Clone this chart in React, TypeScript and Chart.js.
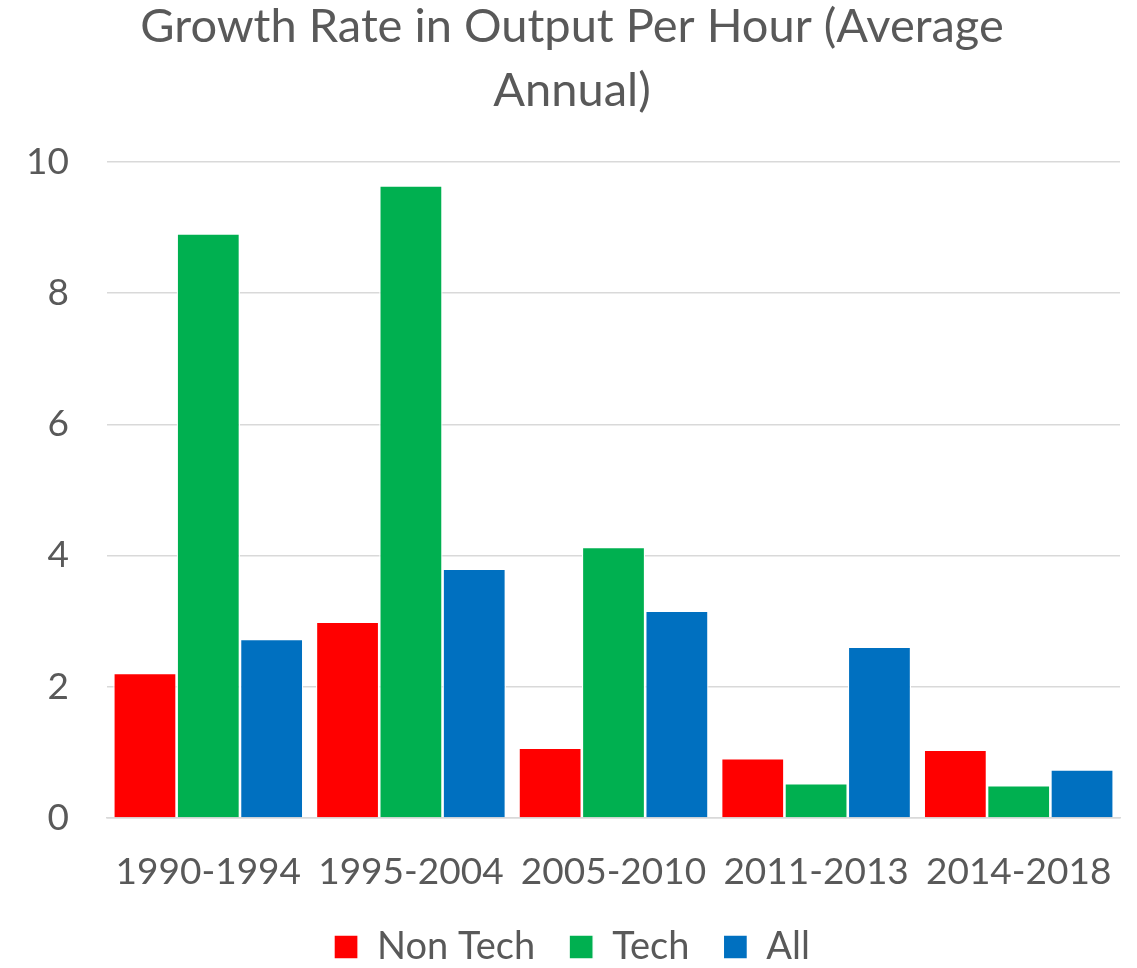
import React, { useEffect, useRef } from "react";
import { Chart, registerables } from "chart.js";

Chart.register(...registerables);

const categories = ["1990-1994", "1995-2004", "2005-2010", "2011-2013", "2014-2018"];
const nonTech = [2.21, 2.99, 1.07, 0.91, 1.04];
const tech = [8.91, 9.64, 4.13, 0.53, 0.50];
const all = [2.73, 3.80, 3.16, 2.61, 0.74];
const titleLines = ["Growth Rate in Output Per Hour (Average", "Annual)"];

const FONT = "Lato, 'Open Sans', sans-serif";
const TEXT = "#595959";

export default function App() {
  const ref = useRef<HTMLCanvasElement | null>(null);
  useEffect(() => {
    if (!ref.current) return;
    const chart = new Chart(ref.current, {
      type: "bar",
      data: {
        labels: categories,
        datasets: [
          { label: "Non Tech", data: nonTech, backgroundColor: "#FF0000", borderColor: "#FFFFFF", borderWidth: 1.3 },
          { label: "Tech", data: tech, backgroundColor: "#00B050", borderColor: "#FFFFFF", borderWidth: 1.3 },
          { label: "All", data: all, backgroundColor: "#0070C0", borderColor: "#FFFFFF", borderWidth: 1.3 },
        ],
      },
      options: {
        responsive: false,
        animation: false,
        layout: { padding: { left: 24, right: 17, top: 0, bottom: 0 } },
        datasets: { bar: { categoryPercentage: 0.938, barPercentage: 1.0 } },
        plugins: {
          title: {
            display: true,
            text: titleLines,
            color: TEXT,
            font: { family: FONT, size: 47, weight: "normal", lineHeight: 1.36 },
            padding: { top: -5, bottom: 39 },
          },
          legend: {
            position: "bottom",
            labels: {
              color: TEXT,
              font: { family: FONT, size: 38 },
              boxWidth: 24,
              boxHeight: 24,
              padding: 34,
            },
          },
          tooltip: { enabled: false },
        },
        scales: {
          x: {
            grid: { display: false, drawTicks: true, tickLength: 31.6 },
            border: { display: true, color: "#D9D9D9", width: 1.5 },
            ticks: { color: TEXT, font: { family: FONT, size: 37 }, padding: 0, maxRotation: 0 },
            afterFit: (scale: any) => {
              scale.paddingLeft = 0;
              scale.paddingRight = 0;
            },
          },
          y: {
            min: 0,
            max: 10,
            ticks: { stepSize: 2, color: TEXT, font: { family: FONT, size: 37 }, padding: 38 },
            grid: { color: "#D9D9D9", lineWidth: 1.5, drawTicks: false },
            border: { display: false },
            afterFit: (scale: any) => {
              scale.width = 83;
            },
          },
        },
      },
    });
    return () => chart.destroy();
  }, []);
  return (
    <div style={{ position: "absolute", top: 0, left: 0, width: 1137, height: 968, overflow: "hidden", background: "#fff" }}>
      <canvas ref={ref} width={1137} height={976} style={{ width: 1137, height: 976, display: "block" }} />
    </div>
  );
}
